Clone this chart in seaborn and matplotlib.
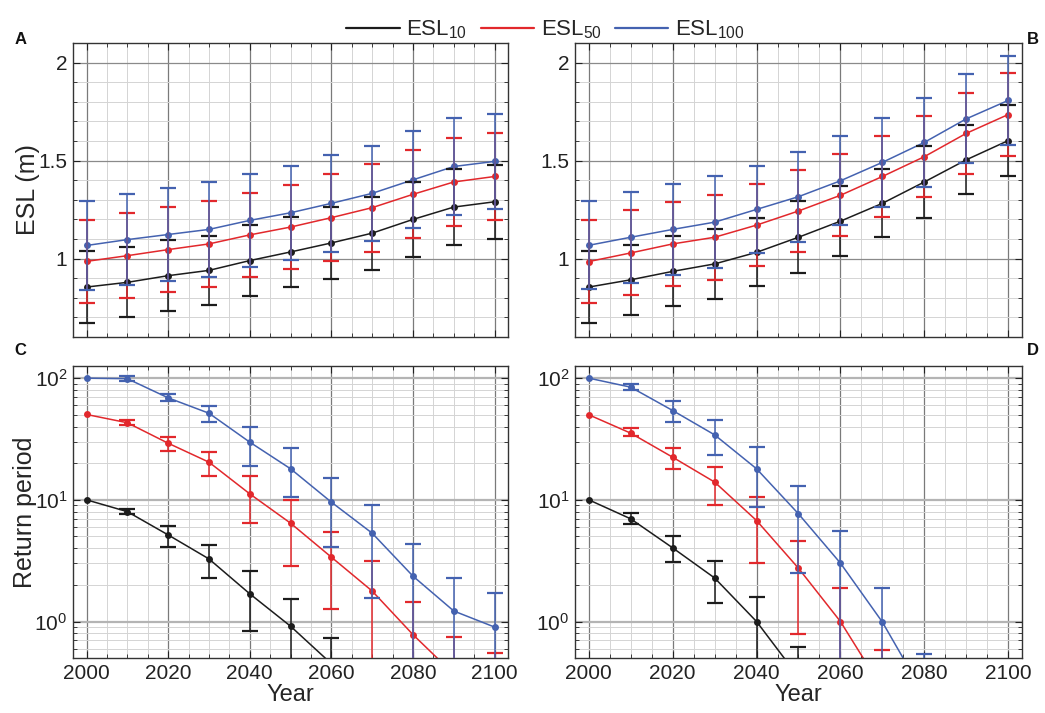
import numpy as np
import pandas as pd
import matplotlib
matplotlib.use("Agg")
import matplotlib.pyplot as plt
from matplotlib.lines import Line2D
from matplotlib.ticker import MultipleLocator, LogLocator, NullFormatter
import seaborn as sns

nan = np.nan

# Data
years = [2000, 2010, 2020, 2030, 2040, 2050, 2060, 2070, 2080, 2090, 2100]
series = ["ESL10", "ESL50", "ESL100"]
colors = {"ESL10": "#1c1c1c", "ESL50": "#e2282c", "ESL100": "#4462b0"}

# Panel A: ESL (m) and half-width of error bars
esl10_a = [0.855, 0.879, 0.913, 0.94, 0.99, 1.034, 1.08, 1.13, 1.20, 1.263, 1.29]
esl50_a = [0.986, 1.015, 1.046, 1.075, 1.121, 1.161, 1.209, 1.26, 1.328, 1.391, 1.419]
esl100_a = [1.067, 1.097, 1.123, 1.149, 1.195, 1.234, 1.282, 1.333, 1.402, 1.47, 1.496]
esl10_a_err = [0.182, 0.179, 0.18, 0.176, 0.18, 0.179, 0.184, 0.186, 0.19, 0.195, 0.19]
esl50_a_err = [0.21, 0.216, 0.218, 0.218, 0.216, 0.216, 0.223, 0.225, 0.225, 0.224, 0.223]
esl100_a_err = [0.225, 0.231, 0.236, 0.241, 0.236, 0.239, 0.246, 0.243, 0.248, 0.246, 0.242]

# Panel B
esl10_b = [0.855, 0.892, 0.935, 0.973, 1.032, 1.109, 1.191, 1.282, 1.391, 1.504, 1.602]
esl50_b = [0.985, 1.029, 1.075, 1.109, 1.171, 1.243, 1.323, 1.419, 1.52, 1.639, 1.735]
esl100_b = [1.068, 1.109, 1.149, 1.186, 1.251, 1.316, 1.397, 1.491, 1.593, 1.713, 1.807]
esl10_b_err = [0.182, 0.179, 0.179, 0.178, 0.174, 0.183, 0.179, 0.174, 0.182, 0.176, 0.18]
esl50_b_err = [0.212, 0.217, 0.214, 0.216, 0.208, 0.208, 0.21, 0.208, 0.206, 0.207, 0.21]
esl100_b_err = [0.224, 0.233, 0.234, 0.236, 0.223, 0.229, 0.227, 0.227, 0.228, 0.227, 0.227]

# Panel C: return period with lower / upper bounds
esl10_c = [10, 8.0, 5.15, 3.27, 1.69, 0.915, 0.45, nan, nan, nan, nan]
esl10_c_lo = [nan, 7.7, 4.08, 2.29, 0.83, 0.3, 0.15, nan, nan, nan, nan]
esl10_c_hi = [nan, 8.4, 6.08, 4.29, 2.58, 1.52, 0.73, nan, nan, nan, nan]
esl50_c = [50.3, 43, 29.2, 20.4, 11.2, 6.43, 3.38, 1.78, 0.78, 0.37, 0.18]
esl50_c_lo = [nan, 41, 25.4, 15.8, 6.47, 2.85, 1.27, 0.3, 0.25, 0.15, 0.08]
esl50_c_hi = [nan, 45, 32.7, 24.6, 15.8, 10, 5.42, 3.17, 1.44, 0.75, 0.55]
esl100_c = [100, 99, 68.9, 51.5, 29.8, 18, 9.57, 5.32, 2.36, 1.22, 0.9]
esl100_c_lo = [nan, 95, 64.7, 43.5, 18.8, 10.5, 4.08, 1.57, 0.4, 0.3, 0.2]
esl100_c_hi = [nan, 104, 74.3, 59.6, 40, 26.8, 15.1, 9.1, 4.35, 2.28, 1.71]

# Panel D
esl10_d = [10, 6.98, 4.03, 2.28, 1.0, 0.35, nan, nan, nan, nan, nan]
esl10_d_lo = [nan, 6.35, 3.07, 1.42, 0.4, 0.15, nan, nan, nan, nan, nan]
esl10_d_hi = [nan, 7.77, 5.0, 3.13, 1.58, 0.62, nan, nan, nan, nan, nan]
esl50_d = [50, 35.3, 22.4, 14, 6.76, 2.74, 1.0, 0.28, nan, nan, nan]
esl50_d_lo = [nan, 33.4, 17.8, 9.15, 3.03, 0.79, 0.35, 0.1, nan, nan, nan]
esl50_d_hi = [nan, 38.8, 26.8, 18.6, 10.5, 4.63, 1.89, 0.58, nan, nan, nan]
esl100_d = [100, 84.3, 54.2, 34.2, 18, 7.67, 3.02, 0.99, 0.25, nan, nan]
esl100_d_lo = [nan, 79.2, 43.5, 23.4, 8.7, 2.51, 0.45, 0.3, 0.1, nan, nan]
esl100_d_hi = [nan, 89.8, 65.2, 44.9, 27.1, 12.9, 5.53, 1.89, 0.54, nan, nan]

sns.set_theme(style="ticks")
plt.rcParams["font.family"] = ["Liberation Sans", "DejaVu Sans"]
plt.rcParams["mathtext.default"] = "regular"

fig = plt.figure(figsize=(10.45, 7.13), dpi=100)
ax_a = fig.add_axes([0.0699, 0.5273, 0.4163, 0.4124])
ax_b = fig.add_axes([0.5502, 0.5273, 0.4278, 0.4124])
ax_c = fig.add_axes([0.0699, 0.0771, 0.4163, 0.4096])
ax_d = fig.add_axes([0.5502, 0.0771, 0.4278, 0.4096])


def long_df(vals):
    rows = []
    for name, v in zip(series, vals):
        for yr, val in zip(years, v):
            rows.append({"year": yr, "value": val, "series": name})
    return pd.DataFrame(rows).dropna()


def style_axes(ax, log=False):
    ax.set_xlim(1996.7, 2103.3)
    ax.xaxis.set_major_locator(MultipleLocator(20))
    ax.xaxis.set_minor_locator(MultipleLocator(5))
    if log:
        ax.set_yscale("log")
        ax.set_ylim(10 ** -0.3, 10 ** 2.1)
        ax.yaxis.set_major_locator(LogLocator(base=10, numticks=10))
        ax.yaxis.set_minor_locator(LogLocator(base=10, subs=np.arange(2, 10), numticks=10))
        ax.yaxis.set_minor_formatter(NullFormatter())
        ax.grid(which="major", axis="y", color="#b4b4b4", lw=1.6)
    else:
        ax.set_ylim(0.6, 2.1)
        ax.yaxis.set_major_locator(MultipleLocator(0.5))
        ax.yaxis.set_minor_locator(MultipleLocator(0.1))
        ax.set_yticks([1, 1.5, 2])
        ax.set_yticklabels(["1", "1.5", "2"])
        ax.grid(which="major", axis="y", color="#8a8a8a", lw=0.9)
    ax.grid(which="major", axis="x", color="#7a7a7a", lw=0.9)
    ax.grid(which="minor", color="#d4d4d4", lw=0.7)
    ax.set_axisbelow(True)
    ax.tick_params(which="both", direction="in", top=True, right=True,
                   labelsize=15, colors="#222222", pad=4)
    ax.tick_params(which="major", length=5, width=0.8)
    ax.tick_params(which="minor", length=3, width=0.6)
    for sp in ax.spines.values():
        sp.set_color("#333333")
        sp.set_linewidth(1.0)
    ax.set_xlabel("")
    ax.set_ylabel("")


def draw_panel(ax, centers, lows, highs):
    df = long_df(centers)
    sns.lineplot(data=df, x="year", y="value", hue="series", palette=colors,
                 hue_order=series, marker="o", markersize=5, markeredgewidth=0,
                 linewidth=1.1, errorbar=None, legend=False, ax=ax)
    for name, c, lo, hi in zip(series, centers, lows, highs):
        c = np.array(c, dtype=float)
        lo = np.array(lo, dtype=float)
        hi = np.array(hi, dtype=float)
        ok = ~np.isnan(lo)
        ax.errorbar(np.array(years)[ok], c[ok], yerr=[c[ok] - lo[ok], hi[ok] - c[ok]],
                    fmt="none", ecolor=colors[name], elinewidth=1.1,
                    capsize=6, capthick=1.6, zorder=3)


# Panels A and B (symmetric errors)
for ax, cen, err in [
    (ax_a, [esl10_a, esl50_a, esl100_a], [esl10_a_err, esl50_a_err, esl100_a_err]),
    (ax_b, [esl10_b, esl50_b, esl100_b], [esl10_b_err, esl50_b_err, esl100_b_err]),
]:
    lows = [np.array(c) - np.array(e) for c, e in zip(cen, err)]
    highs = [np.array(c) + np.array(e) for c, e in zip(cen, err)]
    draw_panel(ax, cen, lows, highs)
    style_axes(ax)
    ax.set_xticklabels([])

draw_panel(ax_c, [esl10_c, esl50_c, esl100_c],
           [esl10_c_lo, esl50_c_lo, esl100_c_lo], [esl10_c_hi, esl50_c_hi, esl100_c_hi])
style_axes(ax_c, log=True)
draw_panel(ax_d, [esl10_d, esl50_d, esl100_d],
           [esl10_d_lo, esl50_d_lo, esl100_d_lo], [esl10_d_hi, esl50_d_hi, esl100_d_hi])
style_axes(ax_d, log=True)

ax_a.set_ylabel("ESL (m)", fontsize=18, labelpad=-1)
ax_c.set_ylabel("Return period", fontsize=18, labelpad=-2)
ax_c.set_xlabel("Year", fontsize=17, labelpad=1)
ax_d.set_xlabel("Year", fontsize=17, labelpad=1)

# Panel letters
for lbl, x, y in [("A", 0.014, 0.945), ("B", 0.983, 0.945),
                  ("C", 0.014, 0.508), ("D", 0.983, 0.508)]:
    fig.text(x, y, lbl, fontsize=12, fontweight="bold", color="#111111",
             ha="left", va="center")

# Legend
handles = [Line2D([0], [0], color=colors[s], lw=1.6) for s in series]
labels = ["ESL$_{10}$", "ESL$_{50}$", "ESL$_{100}$"]
fig.legend(handles, labels, loc="center", bbox_to_anchor=(0.522, 0.958), ncol=3,
           frameon=False, fontsize=16, handlelength=2.4, handletextpad=0.3,
           columnspacing=0.6)

fig.savefig("out.png", dpi=100)
